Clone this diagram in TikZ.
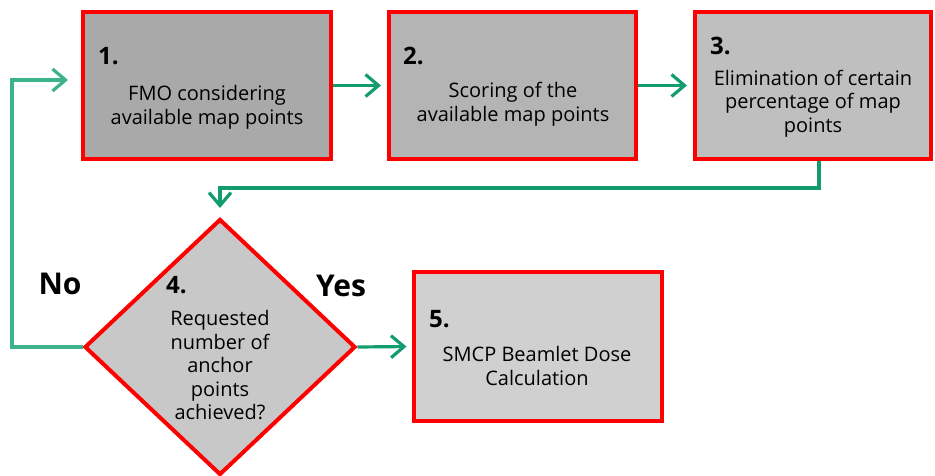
\documentclass[tikz,border=0pt]{standalone}
\usepackage{fontspec}
\setmainfont{Open Sans}
\usetikzlibrary{arrows.meta,shapes.geometric}
\definecolor{bred}{HTML}{FF0000}
\definecolor{gA}{HTML}{A9A9A9}
\definecolor{gB}{HTML}{B4B4B4}
\definecolor{gC}{HTML}{BFBFBF}
\definecolor{gD}{HTML}{C8C8C8}
\definecolor{gE}{HTML}{D0D0D0}
\definecolor{arrg}{HTML}{139C6F}
\definecolor{loopg}{HTML}{3DB38C}
\tikzset{
  box/.style={draw=bred,line width=4pt,rectangle,inner sep=0pt},
  num/.style={font=\fontsize{24}{28}\selectfont\bfseries,anchor=west,inner sep=0pt},
  body/.style={font=\fontsize{20}{23.5}\selectfont,align=center,inner sep=0pt},
  lab/.style={font=\fontsize{30}{34}\selectfont\bfseries,inner sep=0pt},
  arr/.style={draw=arrg,line width=3.2pt,-{Straight Barb[length=13pt,width=22pt]}},
}
\begin{document}
\begin{tikzpicture}[x=1pt,y=-1pt]
\useasboundingbox (0,0) rectangle (935,476);
\node[box,fill=gA,minimum width=248pt,minimum height=147pt] (b1) at (207,85.5) {};
\node[box,fill=gB,minimum width=247pt,minimum height=147pt] (b2) at (512.5,85.5) {};
\node[box,fill=gC,minimum width=236pt,minimum height=147pt] (b3) at (813,85.5) {};
\node[draw=bred,line width=4pt,diamond,fill=gD,minimum width=271pt,minimum height=256pt,inner sep=0pt] (d) at (220,347) {};
\node[box,fill=gE,minimum width=248pt,minimum height=149pt] (b5) at (537.5,346.5) {};

\node[num] (n1) at (98,56) {1.};
\node[body] (t1) at (207,107.5) {FMO considering\\available map points};
\node[num] (n2) at (403,56) {2.};
\node[body] (t2) at (513,104.5) {Scoring of the\\available map points};
\node[num] (n3) at (710,46) {3.};
\node[body] (t3) at (813,103.5) {Elimination of certain\\percentage of map\\points};
\node[num] (n4) at (166,285) {4.};
\node[body] (t4) at (220,365.5) {Requested\\number of\\anchor\\points\\achieved?};
\node[num] (n5) at (429,319) {5.};
\node[body] (t5) at (537,366) {SMCP Beamlet Dose\\Calculation};

\node[lab] (no) at (60,284) {No};
\node[lab] (yes) at (341,286) {Yes};

\draw[arr,shorten >=6pt] (b1.east) -- (b2.west);
\draw[arr,shorten >=6pt] (b2.east) -- (b3.west);
\draw[arr,shorten >=9pt] ([xshift=6pt]b3.south) -- ++(0,27) -| (d.north);
\draw[arr,shorten >=5pt] (d.east) -- (b5.west);
\coordinate (lp1) at (12,347);
\coordinate (lp2) at (12,80);
\coordinate (lp3) at (68,80);
\draw[arr,draw=loopg] (d.west) -- (lp1) -- (lp2) -- (lp3);
\end{tikzpicture}
\end{document}
